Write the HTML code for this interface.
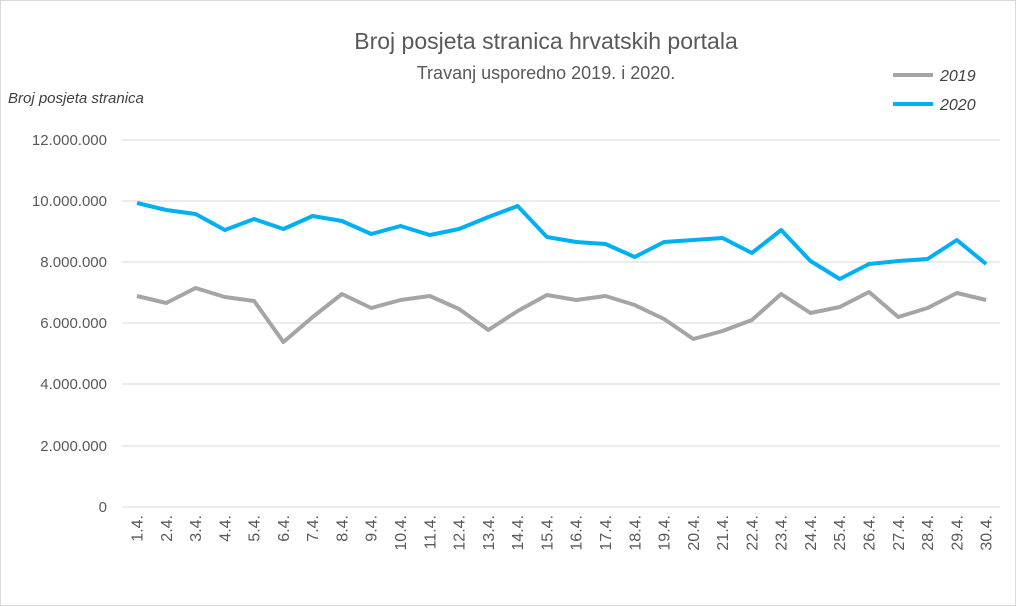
<!DOCTYPE html>
<html><head><meta charset="utf-8"><style>
html,body{margin:0;padding:0;background:#fff;}
svg{display:block;font-family:"Liberation Sans",sans-serif;}
</style></head><body>
<svg width="1016" height="606" viewBox="0 0 1016 606">
<rect x="0.5" y="0.5" width="1015" height="605" fill="#fff" stroke="#d9d9d9"/>
<text x="546" y="49" text-anchor="middle" font-size="23" fill="#595959">Broj posjeta stranica hrvatskih portala</text>
<text x="546" y="79" text-anchor="middle" font-size="18" fill="#595959">Travanj usporedno 2019. i 2020.</text>
<text x="8" y="103" font-size="15" font-style="italic" fill="#404040">Broj posjeta stranica</text>
<line x1="893" y1="75" x2="933" y2="75" stroke="#a5a5a5" stroke-width="4"/>
<text x="940" y="81" font-size="16" font-style="italic" fill="#404040">2019</text>
<line x1="893" y1="104" x2="933" y2="104" stroke="#00b0f0" stroke-width="4"/>
<text x="940" y="110" font-size="16" font-style="italic" fill="#404040">2020</text>
<g stroke="#d9d9d9" stroke-width="1">
<line x1="122" y1="140" x2="1000" y2="140"/><line x1="122" y1="201" x2="1000" y2="201"/>
<line x1="122" y1="262" x2="1000" y2="262"/><line x1="122" y1="323" x2="1000" y2="323"/>
<line x1="122" y1="384" x2="1000" y2="384"/><line x1="122" y1="446" x2="1000" y2="446"/>
<line x1="122" y1="507" x2="1000" y2="507"/>
</g>
<g font-size="15" fill="#595959" text-anchor="end">
<text x="107" y="145">12.000.000</text><text x="107" y="206">10.000.000</text>
<text x="107" y="267">8.000.000</text><text x="107" y="328">6.000.000</text>
<text x="107" y="389">4.000.000</text><text x="107" y="451">2.000.000</text>
<text x="107" y="512">0</text>
</g>
<g id="xl" font-size="16" fill="#595959" text-anchor="end"></g>
<polyline id="p19" fill="none" stroke="#a5a5a5" stroke-width="4" stroke-linejoin="round"/>
<polyline id="p20" fill="none" stroke="#00b0f0" stroke-width="4" stroke-linejoin="round"/>
</svg>
<script>
var y20=[203,210,214,230,219,229,216,221,234,226,235,229,217,206,237,242,244,257,242,240,238,253,230,261,279,264,261,259,240,264];
var y19=[296,303,288,297,301,342,317,294,308,300,296,309,330,311,295,300,296,305,319,339,331,320,294,313,307,292,317,308,293,300];
var a=[],b=[],g=document.getElementById('xl'),s='';
for(var i=0;i<30;i++){var x=137+i*29.28;a.push(x+','+y20[i]);b.push(x+','+y19[i]);
s+='<text transform="translate('+(x+5.5)+',515) rotate(-90)">'+(i+1)+'.4.</text>';}
document.getElementById('p20').setAttribute('points',a.join(' '));
document.getElementById('p19').setAttribute('points',b.join(' '));
g.innerHTML=s;
</script>
</body></html>
